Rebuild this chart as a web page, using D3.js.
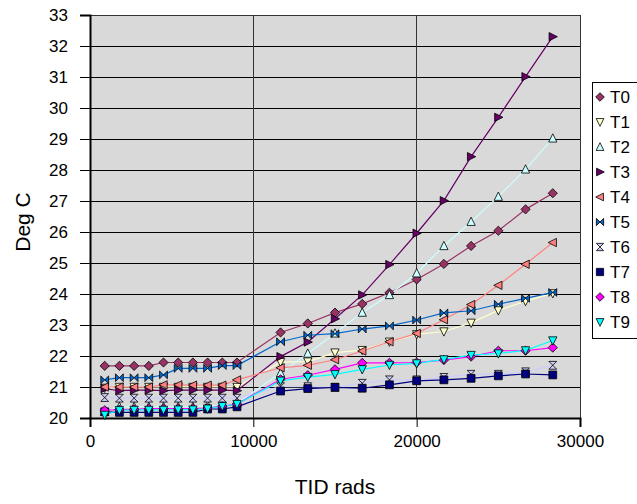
<!DOCTYPE html>
<html><head><meta charset="utf-8">
<script src="https://cdn.jsdelivr.net/npm/d3@7"></script>
<style>
html,body{margin:0;padding:0;background:#fff;}
svg{display:block;font-family:"Liberation Sans",Arial,sans-serif;}
</style></head>
<body><svg id="c" width="637" height="504"></svg>
<script>
const xValues = [900,1800,2700,3600,4500,5400,6300,7200,8100,9000,11667,13333,15000,16667,18333,20000,21667,23333,25000,26667,28333];
const seriesNames = ["T0","T1","T2","T3","T4","T5","T6","T7","T8","T9"];
const T0 = [21.68,21.68,21.68,21.68,21.79,21.79,21.79,21.79,21.79,21.79,22.76,23.05,23.40,23.68,24.04,24.47,24.97,25.55,26.04,26.73,27.25];
const T1 = [20.97,21.0,21.0,21.0,21.0,21.0,21.0,21.0,21.0,21.0,21.8,21.82,22.11,22.19,22.46,22.70,22.79,23.07,23.47,23.77,24.02];
const T2 = [20.2,20.36,20.36,20.36,20.36,20.36,20.36,20.41,20.38,20.47,21.45,22.08,22.73,23.40,23.97,24.67,25.55,26.33,27.14,28.02,29.02];
const T3 = [20.95,20.88,20.9,20.9,20.88,20.9,20.9,20.9,20.9,20.88,21.98,22.45,23.2,23.97,24.95,25.96,27.01,28.43,29.70,31.01,32.30];
const T4 = [21.0,21.0,21.0,21.0,21.07,21.07,21.06,21.06,21.06,21.23,21.62,21.7,21.88,22.16,22.46,22.73,23.17,23.66,24.28,24.96,25.66];
const T5 = [21.23,21.30,21.30,21.30,21.39,21.60,21.60,21.60,21.69,21.69,22.46,22.67,22.72,22.87,22.97,23.16,23.39,23.46,23.67,23.86,24.05];
const T6 = [20.66,20.64,20.64,20.64,20.64,20.64,20.64,20.64,20.64,20.64,21.01,21.01,20.99,21.12,21.23,21.23,21.31,21.41,21.41,21.49,21.70];
const T7 = [20.2,20.18,20.18,20.18,20.18,20.18,20.18,20.29,20.29,20.36,20.87,20.95,20.99,20.96,21.07,21.20,21.23,21.28,21.36,21.42,21.39];
const T8 = [20.25,20.27,20.28,20.3,20.3,20.3,20.3,20.32,20.38,20.45,21.25,21.38,21.57,21.78,21.78,21.79,21.87,21.98,22.17,22.17,22.27];
const T9 = [20.1,20.25,20.26,20.26,20.26,20.27,20.27,20.3,20.38,20.45,21.2,21.32,21.41,21.57,21.71,21.76,21.89,22.03,22.08,22.18,22.50];
const seriesValues = [T0,T1,T2,T3,T4,T5,T6,T7,T8,T9];
const seriesColors = ["#993366","#FFFFCC","#CCFFFF","#660066","#FF8080","#0066CC","#CCCCFF","#000080","#FF00FF","#00FFFF"];
const seriesMarkers = ["diamond","down","up","right","left","bowtie","hourglass","square","diamond","down"];
const xTicks = [0,10000,20000,30000];
const yTicks = [20,21,22,23,24,25,26,27,28,29,30,31,32,33];
const xTitle = "TID rads";
const yTitle = "Deg C";

const svg = d3.select("#c");
const L = 90, R = 580, T = 15, B = 418;
const x = d3.scaleLinear().domain([0,30000]).range([L,R]);
const y = d3.scaleLinear().domain([20,33]).range([B,T]);

function markerPath(type, r){
  const p = d3.path();
  if(type==="diamond"){p.moveTo(0,-r);p.lineTo(r,0);p.lineTo(0,r);p.lineTo(-r,0);}
  else if(type==="square"){p.rect(-r*0.85,-r*0.85,r*1.7,r*1.7);return p.toString();}
  else if(type==="up"){p.moveTo(0,-r);p.lineTo(r*0.9,r*0.8);p.lineTo(-r*0.9,r*0.8);}
  else if(type==="down"){p.moveTo(0,r);p.lineTo(r*0.9,-r*0.8);p.lineTo(-r*0.9,-r*0.8);}
  else if(type==="right"){p.moveTo(r,0);p.lineTo(-r*0.8,r*0.9);p.lineTo(-r*0.8,-r*0.9);}
  else if(type==="left"){p.moveTo(-r,0);p.lineTo(r*0.8,r*0.9);p.lineTo(r*0.8,-r*0.9);}
  else if(type==="bowtie"){p.moveTo(-r*0.85,-r*0.85);p.lineTo(r*0.85,r*0.85);p.lineTo(r*0.85,-r*0.85);p.lineTo(-r*0.85,r*0.85);}
  else if(type==="hourglass"){p.moveTo(-r*0.85,-r*0.85);p.lineTo(r*0.85,-r*0.85);p.lineTo(-r*0.85,r*0.85);p.lineTo(r*0.85,r*0.85);}
  p.closePath();
  return p.toString();
}

// plot area
svg.append("rect").attr("x",L).attr("y",T).attr("width",R-L).attr("height",B-T).attr("fill","#D9D9D9");

// gridlines
svg.append("g").selectAll("line").data(yTicks).join("line")
  .attr("x1",L).attr("x2",R).attr("y1",d=>y(d)).attr("y2",d=>y(d))
  .attr("stroke","#000").attr("stroke-width",1).attr("shape-rendering","crispEdges");
svg.append("g").selectAll("line").data(xTicks).join("line")
  .attr("x1",d=>x(d)).attr("x2",d=>x(d)).attr("y1",T).attr("y2",B)
  .attr("stroke","#333").attr("stroke-width",1).attr("shape-rendering","crispEdges");
svg.append("rect").attr("x",L).attr("y",T).attr("width",R-L).attr("height",B-T)
  .attr("fill","none").attr("stroke","#333").attr("stroke-width",1).attr("shape-rendering","crispEdges");

// axes
const xAxis = svg.append("g").attr("transform",`translate(0,${B})`)
  .call(d3.axisBottom(x).tickValues(xTicks).tickFormat(d3.format("d")).tickSizeOuter(0).tickSize(9).tickPadding(8));
const yAxis = svg.append("g").attr("transform",`translate(${L},0)`)
  .call(d3.axisLeft(y).tickValues(yTicks).tickSizeOuter(0).tickSize(10).tickPadding(12));
[xAxis,yAxis].forEach(a=>{
  a.selectAll("path.domain").attr("stroke","#000").attr("stroke-width",2);
  a.selectAll(".tick line").attr("stroke","#000");
  a.selectAll("text").attr("font-size","17px").attr("fill","#000").attr("font-family","Liberation Sans, Arial, sans-serif");
});

// series
const line = d3.line().x((d,i)=>x(xValues[i])).y(d=>y(d));
seriesValues.forEach((vals,k)=>{
  svg.append("path").datum(vals).attr("d",line).attr("fill","none")
    .attr("stroke",seriesColors[k]).attr("stroke-width",1.2);
});
seriesValues.forEach((vals,k)=>{
  svg.append("g").selectAll("path").data(vals).join("path")
    .attr("transform",(d,i)=>`translate(${x(xValues[i])},${y(d)})`)
    .attr("d",markerPath(seriesMarkers[k],4.6))
    .attr("fill",seriesColors[k]).attr("stroke","#000").attr("stroke-width",0.8);
});

// titles
svg.append("text").attr("x",(L+R)/2).attr("y",494).attr("text-anchor","middle")
  .attr("font-size","21px").text(xTitle);
svg.append("text").attr("transform",`translate(30,222) rotate(-90)`).attr("text-anchor","middle")
  .attr("font-size","21px").text(yTitle);

// legend
const lg = svg.append("g");
lg.append("rect").attr("x",592.5).attr("y",82.5).attr("width",60).attr("height",256)
  .attr("fill","#fff").attr("stroke","#000").attr("stroke-width",1);
seriesNames.forEach((n,k)=>{
  const cy = 97 + k*25;
  lg.append("path").attr("transform",`translate(600,${cy})`).attr("d",markerPath(seriesMarkers[k],4.3))
    .attr("fill",seriesColors[k]).attr("stroke","#000").attr("stroke-width",0.8);
  lg.append("text").attr("x",610).attr("y",cy+6).attr("font-size","17px").text(n);
});
</script></body></html>
